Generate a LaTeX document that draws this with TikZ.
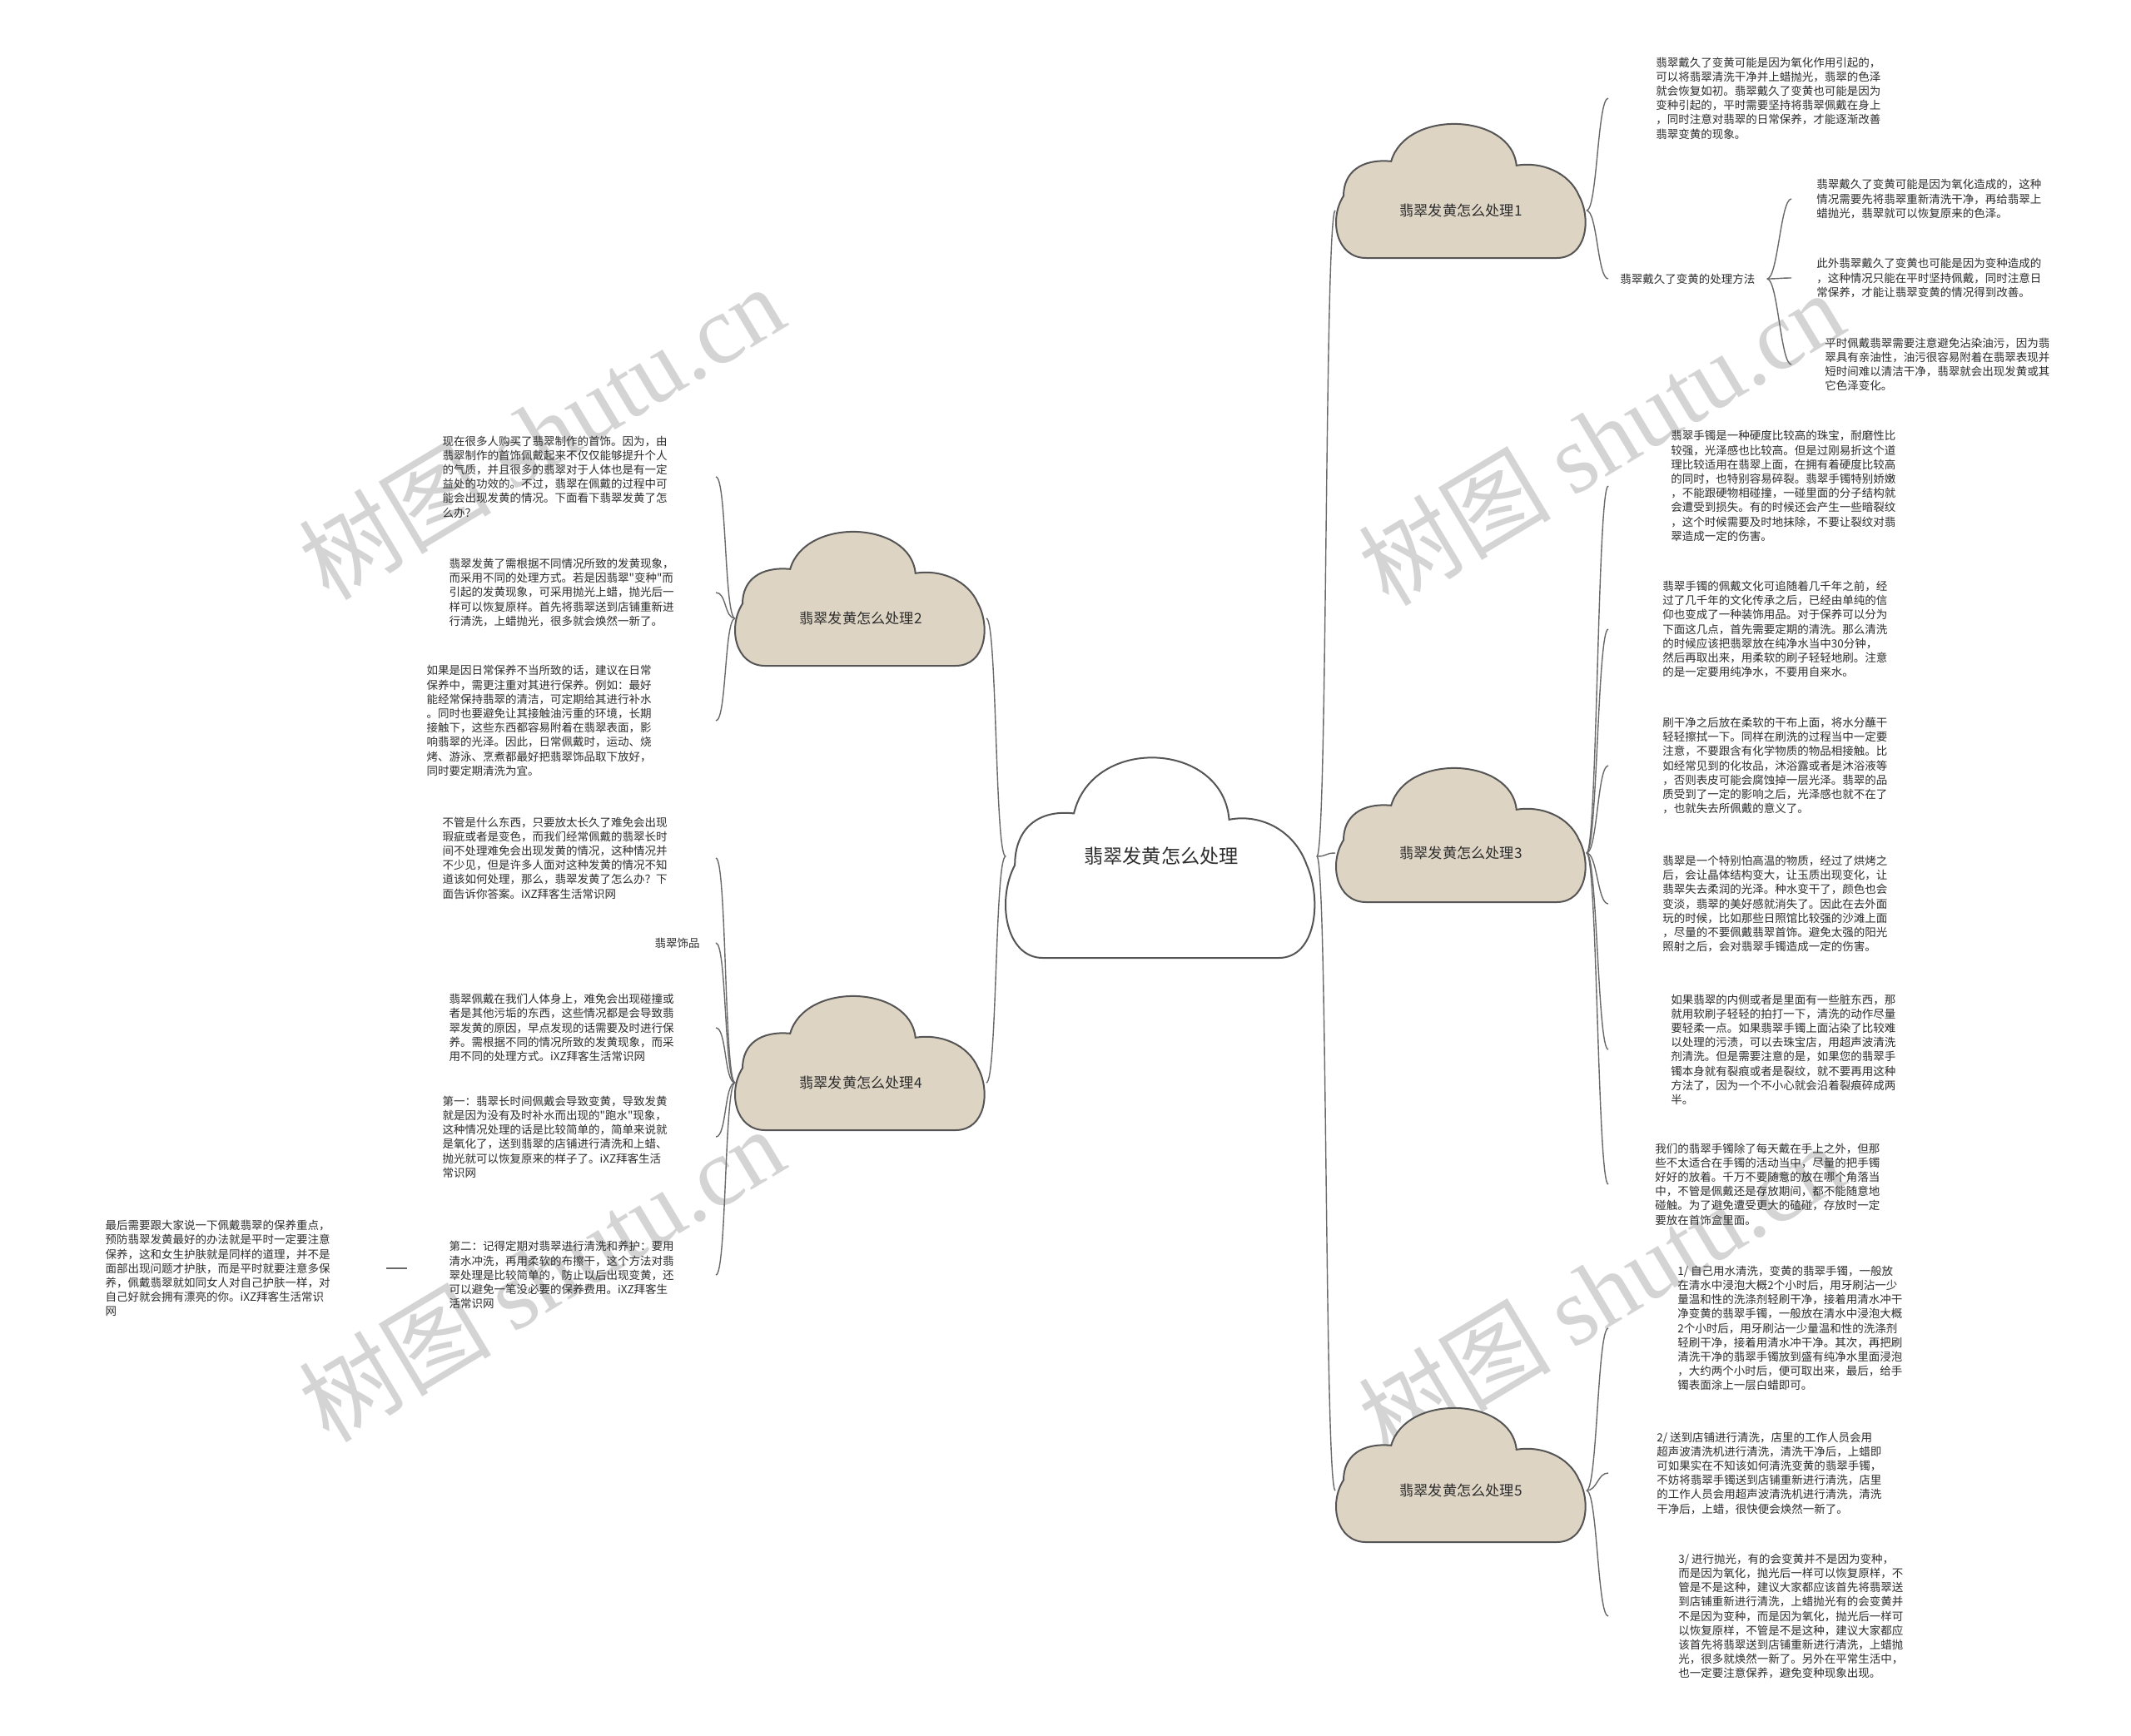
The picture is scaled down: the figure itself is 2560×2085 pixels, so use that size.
\documentclass[tikz,border=0pt]{standalone}
\usepackage{fontspec}
\setmainfont{Noto Sans CJK SC}
\newfontfamily\cjk{Noto Sans CJK SC}
\newfontfamily\wmlatin{Liberation Serif}
\definecolor{beige}{RGB}{222,212,196}
\definecolor{cline}{RGB}{85,85,85}
\definecolor{connc}{RGB}{105,105,105}
\definecolor{txtc}{RGB}{45,45,45}
\tikzset{
 leaf/.style={font=\cjk\fontsize{6.75}{8.6}\selectfont, text=txtc, inner ysep=0pt, align=left},
 rleaf/.style={leaf, anchor=west},
 lleaf/.style={leaf, anchor=east, inner xsep=0pt},
 conn/.style={draw=connc, line width=0.7pt},
 branch/.style={font=\cjk\fontsize{8.6}{10}\selectfont, text=txtc, minimum width=150.5pt, inner sep=0pt},
 wm/.style={text=black!17, font=\cjk\fontsize{58}{62}\selectfont, inner sep=0pt},
}
\newcommand\drawcloud[5]{%
\begin{scope}[shift={(#1,#2)},xscale=#3,yscale=#4]
\filldraw[fill=#5,draw=cline,line width=1pt] (0.12,1) -- (0.88,1) .. controls (1.0,1) and (1.02,0.72) .. (0.97,0.55) .. controls (0.93,0.38) and (0.82,0.30) .. (0.72,0.33) .. controls (0.70,-0.05) and (0.28,-0.08) .. (0.22,0.30) .. controls (0.10,0.28) and (0.03,0.38) .. (0.03,0.55) .. controls (-0.03,0.72) and (0.0,1) .. (0.12,1) -- cycle;
\end{scope}}
\newcommand\rlink[2]{\draw[conn] (#1) .. controls +(13,0) and +(-13,0) .. (#2);}
\newcommand\llink[2]{\draw[conn] (#1) .. controls +(-13,0) and +(13,0) .. (#2);}
\begin{document}
\begin{tikzpicture}[x=0.5pt,y=-0.5pt]
\fill[white] (0,0) rectangle (2560,2085);
\useasboundingbox (0,0) rectangle (2560,2085);
% watermarks
\node[wm, rotate=31] (W1) at (650,519) {树图 {\wmlatin shutu.cn}};
\node[wm, rotate=31] (W2) at (1923,526) {树图 {\wmlatin shutu.cn}};
\node[wm, rotate=31] (W3) at (650,1531) {树图 {\wmlatin shutu.cn}};
\node[wm, rotate=31] (W4) at (1923,1550) {树图 {\wmlatin shutu.cn}};
% clouds
\drawcloud{1208}{903}{373}{248}{white}
\drawcloud{1605}{144}{301}{166}{beige}
\drawcloud{883}{634}{301}{166}{beige}
\drawcloud{1605}{918}{301}{166}{beige}
\drawcloud{883}{1192}{301}{166}{beige}
\drawcloud{1605}{1687}{301}{166}{beige}
% main nodes
\node[font=\cjk\fontsize{11.6}{13}\selectfont, text=txtc, minimum width=186.5pt, inner sep=0pt] (C) at (1395,1029) {翡翠发黄怎么处理};
\node[branch] (P1) at (1755,253) {翡翠发黄怎么处理1};
\node[branch] (P2) at (1034,743) {翡翠发黄怎么处理2};
\node[branch] (P3) at (1755,1025) {翡翠发黄怎么处理3};
\node[branch] (P4) at (1034,1301) {翡翠发黄怎么处理4};
\node[branch] (P5) at (1755,1791) {翡翠发黄怎么处理5};
% branch 1
\node[rleaf, inner xsep=28.5pt] (R1) at (1932,118) {翡翠戴久了变黄可能是因为氧化作用引起的，\\可以将翡翠清洗干净并上蜡抛光，翡翠的色泽\\就会恢复如初。翡翠戴久了变黄也可能是因为\\变种引起的，平时需要坚持将翡翠佩戴在身上\\，同时注意对翡翠的日常保养，才能逐渐改善\\翡翠变黄的现象。};
\node[rleaf, inner xsep=7pt] (R1L) at (1932,335) {翡翠戴久了变黄的处理方法};
\node[rleaf, inner xsep=15pt] (S1) at (2152,239) {翡翠戴久了变黄可能是因为氧化造成的，这种\\情况需要先将翡翠重新清洗干净，再给翡翠上\\蜡抛光，翡翠就可以恢复原来的色泽。};
\node[rleaf, inner xsep=15pt] (S2) at (2152,334) {此外翡翠戴久了变黄也可能是因为变种造成的\\，这种情况只能在平时坚持佩戴，同时注意日\\常保养，才能让翡翠变黄的情况得到改善。};
\node[rleaf, inner xsep=20pt] (S3) at (2152,438) {平时佩戴翡翠需要注意避免沾染油污，因为翡\\翠具有亲油性，油污很容易附着在翡翠表现并\\短时间难以清洁干净，翡翠就会出现发黄或其\\它色泽变化。};
% branch 3
\node[rleaf, inner xsep=37.5pt] (B31) at (1932,584) {翡翠手镯是一种硬度比较高的珠宝，耐磨性比\\较强，光泽感也比较高。但是过刚易折这个道\\理比较适用在翡翠上面，在拥有着硬度比较高\\的同时，也特别容易碎裂。翡翠手镯特别娇嫩\\，不能跟硬物相碰撞，一碰里面的分子结构就\\会遭受到损失。有的时候还会产生一些暗裂纹\\，这个时候需要及时地抹除，不要让裂纹对翡\\翠造成一定的伤害。};
\node[rleaf, inner xsep=32.5pt] (B32) at (1932,756) {翡翠手镯的佩戴文化可追随着几千年之前，经\\过了几千年的文化传承之后，已经由单纯的信\\仰也变成了一种装饰用品。对于保养可以分为\\下面这几点，首先需要定期的清洗。那么清洗\\的时候应该把翡翠放在纯净水当中30分钟，\\然后再取出来，用柔软的刷子轻轻地刷。注意\\的是一定要用纯净水，不要用自来水。};
\node[rleaf, inner xsep=32.5pt] (B33) at (1932,920) {刷干净之后放在柔软的干布上面，将水分蘸干\\轻轻擦拭一下。同样在刷洗的过程当中一定要\\注意，不要跟含有化学物质的物品相接触。比\\如经常见到的化妆品，沐浴露或者是沐浴液等\\，否则表皮可能会腐蚀掉一层光泽。翡翠的品\\质受到了一定的影响之后，光泽感也就不在了\\，也就失去所佩戴的意义了。};
\node[rleaf, inner xsep=32.5pt] (B34) at (1932,1086) {翡翠是一个特别怕高温的物质，经过了烘烤之\\后，会让晶体结构变大，让玉质出现变化，让\\翡翠失去柔润的光泽。种水变干了，颜色也会\\变淡，翡翠的美好感就消失了。因此在去外面\\玩的时候，比如那些日照馆比较强的沙滩上面\\，尽量的不要佩戴翡翠首饰。避免太强的阳光\\照射之后，会对翡翠手镯造成一定的伤害。};
\node[rleaf, inner xsep=37.5pt] (B35) at (1932,1261) {如果翡翠的内侧或者是里面有一些脏东西，那\\就用软刷子轻轻的拍打一下，清洗的动作尽量\\要轻柔一点。如果翡翠手镯上面沾染了比较难\\以处理的污渍，可以去珠宝店，用超声波清洗\\剂清洗。但是需要注意的是，如果您的翡翠手\\镯本身就有裂痕或者是裂纹，就不要再用这种\\方法了，因为一个不小心就会沿着裂痕碎成两\\半。};
\node[rleaf, inner xsep=28pt] (B36) at (1932,1423) {我们的翡翠手镯除了每天戴在手上之外，但那\\些不太适合在手镯的活动当中，尽量的把手镯\\好好的放着。千万不要随意的放在哪个角落当\\中，不管是佩戴还是存放期间，都不能随意地\\碰触。为了避免遭受更大的磕碰，存放时一定\\要放在首饰盒里面。};
% branch 5
\node[rleaf, inner xsep=41.5pt] (B51) at (1932,1596) {1/ 自己用水清洗，变黄的翡翠手镯，一般放\\在清水中浸泡大概2个小时后，用牙刷沾一少\\量温和性的洗涤剂轻刷干净，接着用清水冲干\\净变黄的翡翠手镯，一般放在清水中浸泡大概\\2个小时后，用牙刷沾一少量温和性的洗涤剂\\轻刷干净，接着用清水冲干净。其次，再把刷\\清洗干净的翡翠手镯放到盛有纯净水里面浸泡\\，大约两个小时后，便可取出来，最后，给手\\镯表面涂上一层白蜡即可。};
\node[rleaf, inner xsep=29pt] (B52) at (1932,1770) {2/ 送到店铺进行清洗，店里的工作人员会用\\超声波清洗机进行清洗，清洗干净后，上蜡即\\可如果实在不知该如何清洗变黄的翡翠手镯，\\不妨将翡翠手镯送到店铺重新进行清洗，店里\\的工作人员会用超声波清洗机进行清洗，清洗\\干净后，上蜡，很快便会焕然一新了。};
\node[rleaf, inner xsep=42pt] (B53) at (1932,1942) {3/ 进行抛光，有的会变黄并不是因为变种，\\而是因为氧化，抛光后一样可以恢复原样，不\\管是不是这种，建议大家都应该首先将翡翠送\\到店铺重新进行清洗，上蜡抛光有的会变黄并\\不是因为变种，而是因为氧化，抛光后一样可\\以恢复原样，不管是不是这种，建议大家都应\\该首先将翡翠送到店铺重新进行清洗，上蜡抛\\光，很多就焕然一新了。另外在平常生活中，\\也一定要注意保养，避免变种现象出现。};
% branch 2
\node[lleaf, text width=164pt] (L21) at (860,573) {现在很多人购买了翡翠制作的首饰。因为，由\\翡翠制作的首饰佩戴起来不仅仅能够提升个人\\的气质，并且很多的翡翠对于人体也是有一定\\益处的功效的。不过，翡翠在佩戴的过程中可\\能会出现发黄的情况。下面看下翡翠发黄了怎\\么办？};
\node[lleaf, text width=160pt] (L22) at (860,712) {翡翠发黄了需根据不同情况所致的发黄现象，\\而采用不同的处理方式。若是因翡翠"变种"而\\引起的发黄现象，可采用抛光上蜡，抛光后一\\样可以恢复原样。首先将翡翠送到店铺重新进\\行清洗，上蜡抛光，很多就会焕然一新了。};
\node[lleaf, text width=173.5pt] (L23) at (860,866) {如果是因日常保养不当所致的话，建议在日常\\保养中，需更注重对其进行保养。例如：最好\\能经常保持翡翠的清洁，可定期给其进行补水\\。同时也要避免让其接触油污重的环境，长期\\接触下，这些东西都容易附着在翡翠表面，影\\响翡翠的光泽。因此，日常佩戴时，运动、烧\\烤、游泳、烹煮都最好把翡翠饰品取下放好，\\同时要定期清洗为宜。};
% branch 4
\node[lleaf, text width=164pt] (L41) at (860,1031) {不管是什么东西，只要放太长久了难免会出现\\瑕疵或者是变色，而我们经常佩戴的翡翠长时\\间不处理难免会出现发黄的情况，这种情况并\\不少见，但是许多人面对这种发黄的情况不知\\道该如何处理，那么，翡翠发黄了怎么办？下\\面告诉你答案。iXZ拜客生活常识网};
\node[lleaf, text width=36.5pt] (L4L) at (860,1133) {翡翠饰品};
\node[lleaf, text width=160pt] (L42) at (860,1235) {翡翠佩戴在我们人体身上，难免会出现碰撞或\\者是其他污垢的东西，这些情况都是会导致翡\\翠发黄的原因，早点发现的话需要及时进行保\\养。需根据不同的情况所致的发黄现象，而采\\用不同的处理方式。iXZ拜客生活常识网};
\node[lleaf, text width=164pt] (L43) at (860,1366) {第一：翡翠长时间佩戴会导致变黄，导致发黄\\就是因为没有及时补水而出现的"跑水"现象，\\这种情况处理的话是比较简单的，简单来说就\\是氧化了，送到翡翠的店铺进行清洗和上蜡、\\抛光就可以恢复原来的样子了。iXZ拜客生活\\常识网};
\node[lleaf, text width=160pt] (L44) at (860,1532) {第二：记得定期对翡翠进行清洗和养护：要用\\清水冲洗，再用柔软的布擦干，这个方法对翡\\翠处理是比较简单的，防止以后出现变黄，还\\可以避免一笔没必要的保养费用。iXZ拜客生\\活常识网};
\node[lleaf, text width=168.5pt] (FL) at (464,1524) {最后需要跟大家说一下佩戴翡翠的保养重点，\\预防翡翠发黄最好的办法就是平时一定要注意\\保养，这和女生护肤就是同样的道理，并不是\\面部出现问题才护肤，而是平时就要注意多保\\养，佩戴翡翠就如同女人对自己护肤一样，对\\自己好就会拥有漂亮的你。iXZ拜客生活常识\\网};
% connectors
\rlink{C.east}{P1.west}
\rlink{C.east}{P3.west}
\rlink{C.east}{P5.west}
\llink{C.west}{P2.east}
\llink{C.west}{P4.east}
\rlink{P1.east}{R1.west}
\rlink{P1.east}{R1L.west}
\rlink{R1L.east}{S1.west}
\rlink{R1L.east}{S2.west}
\rlink{R1L.east}{S3.west}
\rlink{P3.east}{B31.west}
\rlink{P3.east}{B32.west}
\rlink{P3.east}{B33.west}
\rlink{P3.east}{B34.west}
\rlink{P3.east}{B35.west}
\rlink{P3.east}{B36.west}
\rlink{P5.east}{B51.west}
\rlink{P5.east}{B52.west}
\rlink{P5.east}{B53.west}
\llink{P2.west}{L21.east}
\llink{P2.west}{L22.east}
\llink{P2.west}{L23.east}
\llink{P4.west}{L41.east}
\llink{P4.west}{L4L.east}
\llink{P4.west}{L42.east}
\llink{P4.west}{L43.east}
\llink{P4.west}{L44.east}
\coordinate (L44in) at ([xshift=-25pt]L44.west);
\draw[conn] (L44in |- FL.east) -- (FL.east);
\end{tikzpicture}
\end{document}
